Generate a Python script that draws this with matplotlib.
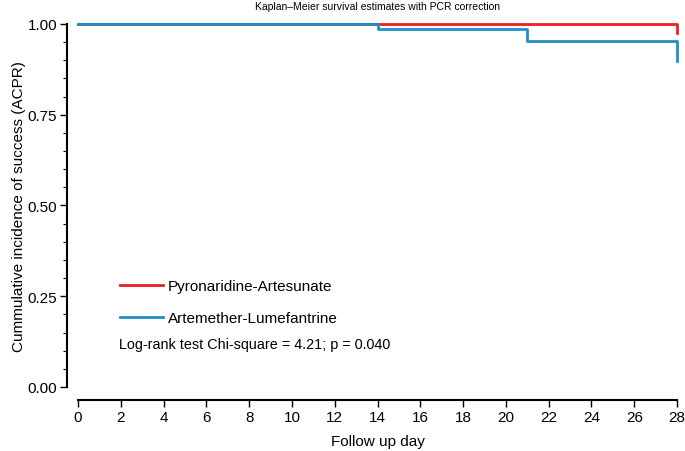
import matplotlib
matplotlib.use('Agg')
from matplotlib import pyplot as plt
from matplotlib.ticker import MultipleLocator

plt.rcParams['font.family'] = ['Liberation Sans', 'DejaVu Sans']

# step survival curves (day, survival)
pa_days = [0, 28, 28]
pa_surv = [1.0, 1.0, 0.975]
al_days = [0, 14, 21, 28, 28]
al_surv = [1.0, 0.987, 0.953, 0.953, 0.898]

labels = ['Pyronaridine-Artesunate', 'Artemether-Lumefantrine']
colors = ['#f01e23', '#1f8fc7']
x_ticks = list(range(0, 29, 2))
y_ticks = [0.0, 0.25, 0.5, 0.75, 1.0]

fig = plt.figure(figsize=(6.85, 4.52), dpi=100)
ax = fig.add_axes([0.1139, 0.1416, 0.8745, 0.8031])

ax.step(pa_days, pa_surv, where='post', color=colors[0], lw=2, clip_on=False, label=labels[0])
ax.step(al_days, al_surv, where='post', color=colors[1], lw=2, clip_on=False, label=labels[1])

ax.set_xlim(0, 28)
ax.set_ylim(0, 1)
ax.set_xticks(x_ticks)
ax.set_yticks(y_ticks)
ax.set_yticklabels(['%.2f' % v for v in y_ticks])
ax.yaxis.set_minor_locator(MultipleLocator(0.05))

for s in ['top', 'right']:
    ax.spines[s].set_visible(False)
ax.spines['left'].set_position(('outward', 8))
ax.spines['bottom'].set_position(('outward', 9.5))
ax.spines['left'].set_linewidth(1.5)
ax.spines['bottom'].set_linewidth(1.5)
ax.tick_params(axis='both', which='major', length=5, width=1, labelsize=11, pad=2)
ax.tick_params(axis='y', which='minor', length=3, width=0.8)

ax.set_xlabel('Follow up day', fontsize=11, labelpad=7)
ax.set_ylabel('Cummulative incidence of success (ACPR)', fontsize=11, labelpad=1)
ax.set_title('Kaplan\u2013Meier survival estimates with PCR correction', fontsize=7.5, pad=10.5)

ax.legend(loc='lower left', bbox_to_anchor=(0.047, 0.133),
          frameon=False, fontsize=11, handlelength=2.8, handletextpad=0.33, labelspacing=1.16)
ax.text(0.068, 0.119, 'Log-rank test Chi-square = 4.21; p = 0.040', transform=ax.transAxes,
        fontsize=10.4, va='center')

fig.savefig('out.png', dpi=100)
